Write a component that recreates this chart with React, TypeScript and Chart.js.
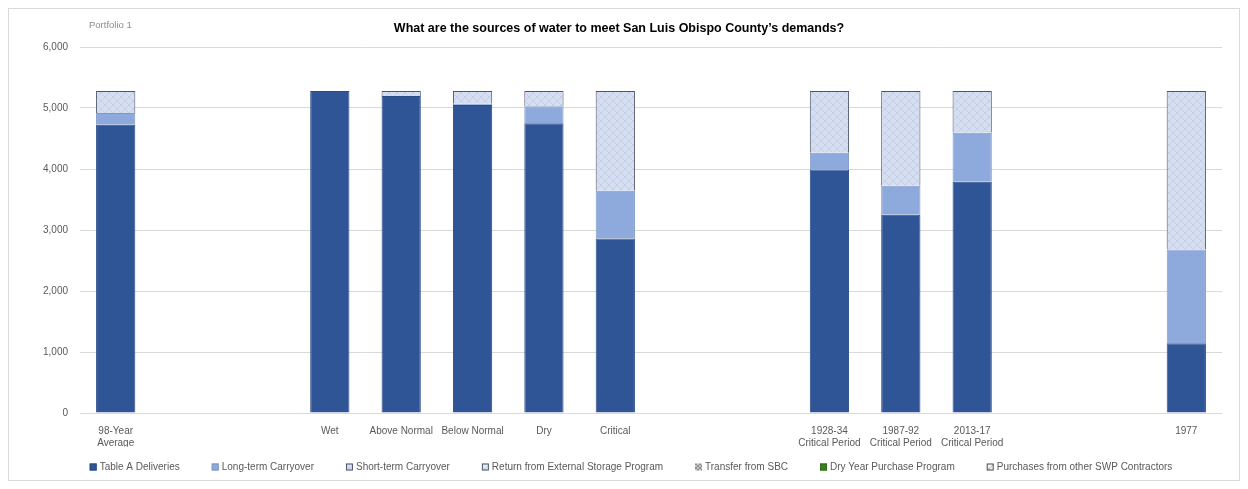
import React, { useEffect, useRef } from "react";
import { Chart, registerables } from "chart.js";

Chart.register(...registerables);

const categories: (string | string[])[] = [
  ["98-Year", "Average"], "", "", "Wet", "Above Normal", "Below Normal", "Dry", "Critical", "", "",
  ["1928-34", "Critical Period"], ["1987-92", "Critical Period"], ["2013-17", "Critical Period"], "", "", "1977",
];

const tableA = [4725, null, null, 5280, 5195, 5050, 4750, 2860, null, null, 3990, 3250, 3790, null, null, 1145];
const longTermCarryover = [195, null, null, 0, 0, 20, 280, 785, null, null, 275, 475, 805, null, null, 1535];
const shortTermCarryover = [360, null, null, 0, 85, 210, 250, 1635, null, null, 1015, 1555, 685, null, null, 2600];
const returnExternal = [0, null, null, 0, 0, 0, 0, 0, null, null, 0, 0, 0, null, null, 0];
const transferSBC = [0, null, null, 0, 0, 0, 0, 0, null, null, 0, 0, 0, null, null, 0];
const dryYearPurchase = [0, null, null, 0, 0, 0, 0, 0, null, null, 0, 0, 0, null, null, 0];
const purchasesSWP = [0, null, null, 0, 0, 0, 0, 0, null, null, 0, 0, 0, null, null, 0];

const yTicks = [0, 1000, 2000, 3000, 4000, 5000, 6000];

function makeHatch(bg: string, fg: string): CanvasPattern | string {
  const c = document.createElement("canvas");
  c.width = 8;
  c.height = 8;
  const ctx = c.getContext("2d");
  if (!ctx) return bg;
  ctx.fillStyle = bg;
  ctx.fillRect(0, 0, 8, 8);
  ctx.strokeStyle = fg;
  ctx.lineWidth = 1;
  ctx.beginPath();
  ctx.moveTo(0, 8);
  ctx.lineTo(8, 0);
  ctx.moveTo(-4, 4);
  ctx.lineTo(4, -4);
  ctx.moveTo(4, 12);
  ctx.lineTo(12, 4);
  ctx.moveTo(0, 0);
  ctx.lineTo(8, 8);
  ctx.stroke();
  return ctx.createPattern(c, "repeat") || bg;
}

function makeDots(bg: string, fg: string): CanvasPattern | string {
  const c = document.createElement("canvas");
  c.width = 4;
  c.height = 4;
  const ctx = c.getContext("2d");
  if (!ctx) return bg;
  ctx.fillStyle = bg;
  ctx.fillRect(0, 0, 4, 4);
  ctx.fillStyle = fg;
  ctx.fillRect(0, 0, 2, 2);
  ctx.fillRect(2, 2, 2, 2);
  return ctx.createPattern(c, "repeat") || bg;
}

const FONT = "'Liberation Sans', Arial, sans-serif";

export default function App() {
  const ref = useRef<HTMLCanvasElement>(null);

  useEffect(() => {
    if (!ref.current) return;
    const stPattern = makeHatch("#D6DFF2", "#C4CFE6");
    const retPattern = makeHatch("#E4EAF6", "#CBD5EA");
    const sbcPattern = makeDots("#C8C8C8", "#8C8C8C");
    const swpPattern = makeHatch("#EEF2F0", "#B8C4BC");

    const titlePlugin = {
      id: "customTitle",
      afterDraw(chart: any) {
        const ctx = chart.ctx;
        ctx.save();
        ctx.fillStyle = "#8C8C8C";
        ctx.font = `9.5px ${FONT}`;
        ctx.textAlign = "left";
        ctx.textBaseline = "middle";
        ctx.fillText("Portfolio 1", 80, 16);
        ctx.fillStyle = "#000000";
        ctx.font = `bold 12.5px ${FONT}`;
        ctx.textAlign = "center";
        ctx.fillText("What are the sources of water to meet San Luis Obispo County\u2019s demands?", 610, 20);
        ctx.restore();
      },
    };

    const legendPlugin = {
      id: "customLegend",
      afterDraw(chart: any) {
        const ctx = chart.ctx;
        const ds = chart.data.datasets;
        const box = 7;
        const textGap = 3;
        const itemGap = 32;
        ctx.save();
        ctx.font = `10px ${FONT}`;
        const widths = ds.map((d: any) => box + textGap + ctx.measureText(d.label).width);
        const total = widths.reduce((a: number, b: number) => a + b, 0) + itemGap * (ds.length - 1);
        const cx = (chart.chartArea.left + chart.chartArea.right) / 2 - 20;
        const y = chart.height - 13;
        let x = cx - total / 2;
        ds.forEach((d: any, i: number) => {
          ctx.fillStyle = d.backgroundColor;
          ctx.fillRect(x, y - box / 2, box, box);
          if (d.borderWidth) {
            ctx.strokeStyle = d.borderColor;
            ctx.lineWidth = 1;
            ctx.strokeRect(x + 0.5, y - box / 2 + 0.5, box - 1, box - 1);
          }
          ctx.fillStyle = "#595959";
          ctx.textAlign = "left";
          ctx.textBaseline = "middle";
          ctx.fillText(d.label, x + box + textGap, y);
          x += widths[i] + itemGap;
        });
        ctx.restore();
      },
    };

    const border = "#4B566D";
    const chart = new Chart(ref.current, {
      type: "bar",
      data: {
        labels: categories,
        datasets: [
          { label: "Table A Deliveries", data: tableA, backgroundColor: "#2F5597", borderColor: "#2A4C86", borderWidth: 1 },
          { label: "Long-term Carryover", data: longTermCarryover, backgroundColor: "#8EA9DB", borderColor: "#7E97C6", borderWidth: 1 },
          { label: "Short-term Carryover", data: shortTermCarryover, backgroundColor: stPattern as any, borderColor: border, borderWidth: 1 },
          { label: "Return from External Storage Program", data: returnExternal, backgroundColor: retPattern as any, borderColor: border, borderWidth: 1 },
          { label: "Transfer from SBC", data: transferSBC, backgroundColor: sbcPattern as any, borderColor: "#FFFFFF", borderWidth: 0 },
          { label: "Dry Year Purchase Program", data: dryYearPurchase, backgroundColor: "#3B7D23", borderColor: "#2E6A1A", borderWidth: 1 },
          { label: "Purchases from other SWP Contractors", data: purchasesSWP, backgroundColor: swpPattern as any, borderColor: "#555555", borderWidth: 1 },
        ] as any,
      },
      options: {
        animation: false,
        responsive: true,
        maintainAspectRatio: false,
        layout: { padding: { top: 38, right: 17, left: 0, bottom: 33 } },
        datasets: { bar: { barPercentage: 0.55, categoryPercentage: 1 } },
        plugins: {
          tooltip: { enabled: false },
          title: { display: false },
          legend: { display: false },
        },
        scales: {
          x: {
            stacked: true,
            grid: { display: false },
            border: { display: false },
            ticks: {
              autoSkip: false,
              maxRotation: 0,
              minRotation: 0,
              color: "#595959",
              font: { size: 10, family: FONT },
              padding: 4,
            },
            afterFit(scale: any) {
              scale.height = 34;
            },
          },
          y: {
            stacked: true,
            min: 0,
            max: 6000,
            afterBuildTicks(scale: any) {
              scale.ticks = yTicks.map((v) => ({ value: v }));
            },
            afterFit(scale: any) {
              scale.width = 71;
            },
            grid: { color: "#D9D9D9", drawTicks: false, lineWidth: 1 },
            border: { display: false },
            ticks: {
              color: "#595959",
              font: { size: 10, family: FONT },
              padding: 12,
              callback: (v: any) => Number(v).toLocaleString("en-US"),
            },
          },
        },
      },
      plugins: [titlePlugin, legendPlugin],
    });
    return () => chart.destroy();
  }, []);

  return (
    <div
      style={{
        width: 1232,
        height: 473,
        boxSizing: "border-box",
        border: "1px solid #D9D9D9",
        background: "#FFFFFF",
        position: "relative",
      }}
    >
      <canvas ref={ref} />
    </div>
  );
}
